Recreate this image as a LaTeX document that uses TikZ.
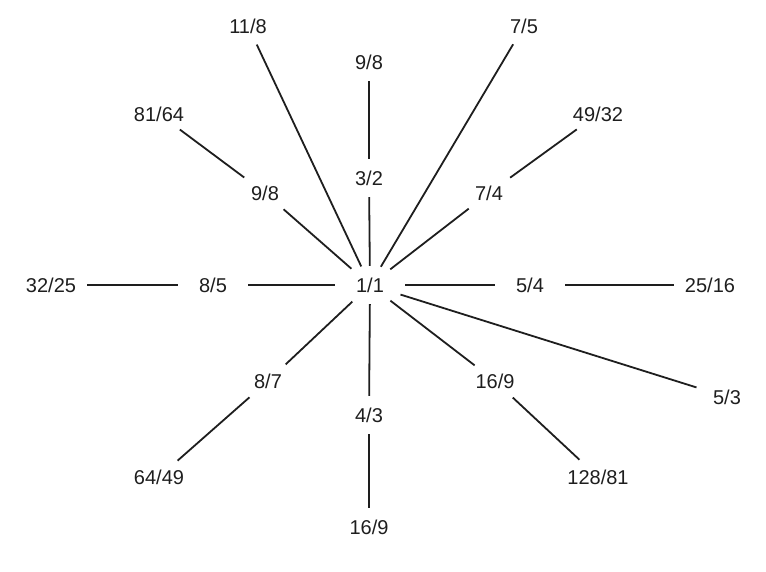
\documentclass[tikz,border=0pt]{standalone}
\usepackage{fontspec}
\setmainfont{Liberation Sans}
\usetikzlibrary{shapes.geometric}
\definecolor{ink}{HTML}{1E1E1E}

\begin{document}
\begin{tikzpicture}[x=1pt, y=-1pt, ratio/.style={ellipse, minimum width=70pt, minimum height=38pt, inner sep=0pt, text=ink, font=\fontsize{20}{24}\selectfont}, link/.style={line width=1.8pt, color=ink}]
\useasboundingbox (0,0) rectangle (766,571);
\node  (1)[ratio]  at (370,285) {1/1};
\node  (2)[ratio]  at (369,178) {3/2};
\node  (3)[ratio]  at (369,62)  {9/8};
\node  (4)[ratio]  at (248,26)  {11/8};
\node  (5)[ratio]  at (524,26)  {7/5};
\node  (6)[ratio]  at (265,193) {9/8};
\node  (7)[ratio]  at (159,114) {81/64};
\node  (8)[ratio]  at (489,193) {7/4};
\node  (9)[ratio]  at (598,114) {49/32};
\node  (10)[ratio] at (213,285) {8/5};
\node  (11)[ratio] at (51,285)  {32/25};
\node  (12)[ratio] at (530,285) {5/4};
\node  (13)[ratio] at (710,285) {25/16};
\node  (14)[ratio] at (268,381) {8/7};
\node  (15)[ratio] at (159,477) {64/49};
\node  (16)[ratio] at (369,415) {4/3};
\node  (17)[ratio] at (369,527) {16/9};
\node  (18)[ratio] at (495,381) {16/9};
\node  (19)[ratio] at (598,477) {128/81};
\node  (20)[ratio] at (727,397) {5/3};
\draw[link] (1) -- (2);
\draw[link] (2) -- (3);
\draw[link] (1) -- (4);
\draw[link] (1) -- (5);
\draw[link] (1) -- (6);
\draw[link] (6) -- (7);
\draw[link] (1) -- (8);
\draw[link] (8) -- (9);
\draw[link] (1) -- (10);
\draw[link] (10) -- (11);
\draw[link] (1) -- (12);
\draw[link] (12) -- (13);
\draw[link] (1) -- (14);
\draw[link] (14) -- (15);
\draw[link] (1) -- (16);
\draw[link] (16) -- (17);
\draw[link] (1) -- (18);
\draw[link] (18) -- (19);
\draw[link] (1) -- (20);
\end{tikzpicture}
\end{document}
